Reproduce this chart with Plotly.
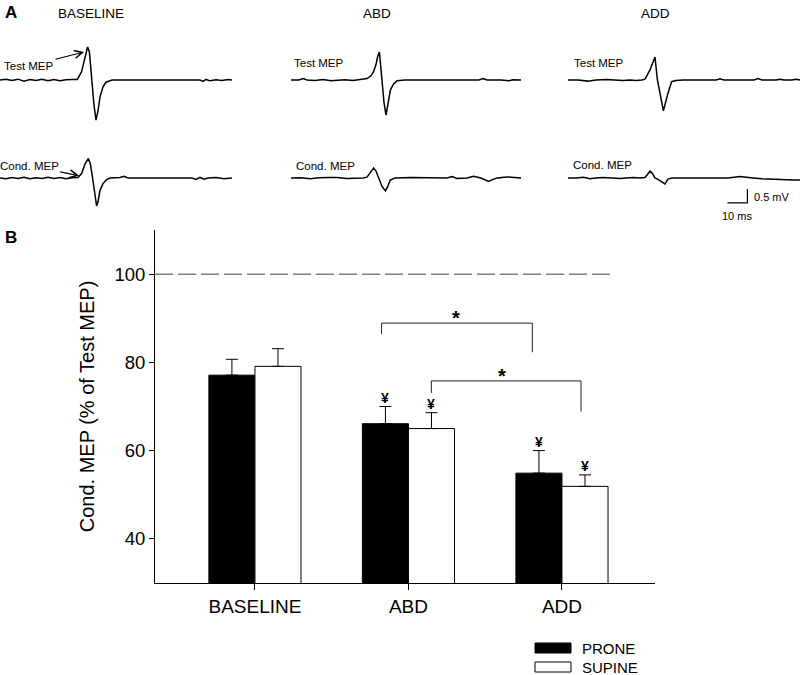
import plotly.graph_objects as go

# ---------------- DATA ----------------
CATEGORIES = ["BASELINE", "ABD", "ADD"]
PRONE = [77.1, 66.1, 54.9]
PRONE_SEM = [3.6, 3.9, 5.1]
SUPINE = [79.1, 65.0, 51.9]
SUPINE_SEM = [4.0, 3.6, 2.6]
YEN_PRONE = [False, True, True]
YEN_SUPINE = [False, True, True]
REFERENCE_LEVEL = 100
Y_TICKS = [40, 60, 80, 100]

# significance brackets: x_left, x_right, y_left_end, y_top, y_right_end, star_x, star_y
BRACKET_1 = [0.825, 1.807, 86.4, 88.9, 82.3, 1.31, 88.9]
BRACKET_2 = [1.149, 2.124, 73.1, 75.8, 68.9, 1.61, 75.8]

# MEP traces (time in ms, amplitude in mV)
BL_TEST_T = [0, 3, 6, 9, 12, 15, 18, 21, 24, 27, 30, 33, 36, 38.7, 40.8, 42.5, 43.8, 44.7, 45.8, 47, 48, 49, 50, 51.5, 53, 56, 70, 90, 100, 101.5, 103, 105, 108, 111, 114, 116]
BL_TEST_V = [0, 0.03, -0.02, 0.03, -0.04, 0.02, -0.02, 0.03, -0.03, 0.02, -0.03, 0.01, 0.02, 0.02, 0.3, 0.79, 1.18, 1.0, 0.0, -0.9, -1.43, -1.1, -0.6, -0.24, -0.08, 0.0, 0.0, 0.0, 0.0, -0.05, 0.02, -0.03, 0.01, -0.02, 0.02, 0.0]

BL_COND_T = [0, 3, 6, 9, 12, 15, 18, 21, 24, 27, 30, 33, 36, 39, 40.8, 42.5, 44.2, 45.2, 46.3, 47.3, 48.3, 49, 50, 51.5, 53.3, 55, 60, 62, 64, 80, 96, 98, 100, 102, 104, 108, 112, 116]
BL_COND_V = [0, -0.03, 0.02, -0.02, 0.03, -0.03, 0.01, -0.02, 0.03, -0.02, 0.02, -0.03, 0.01, 0.02, 0.16, 0.5, 0.70, 0.5, 0.0, -0.6, -1.0, -0.85, -0.44, -0.2, -0.06, 0.0, 0.02, 0.06, 0.0, 0.0, 0.0, -0.05, 0.02, -0.04, 0.0, 0.02, -0.03, 0.0]

ABD_TEST_T = [0, 4, 6, 8, 12, 16, 20, 23, 27, 31, 35, 38, 40, 41.3, 42.5, 43.3, 44.2, 45.4, 46.5, 47.5, 49.7, 51.2, 53, 57, 75, 94, 96, 98, 105, 109, 111, 115]
ABD_TEST_V = [0, 0.0, 0.05, 0.0, -0.02, 0.02, -0.03, -0.02, 0.01, -0.02, 0.02, 0.05, 0.15, 0.3, 0.55, 0.83, 1.0, 0.0, -0.8, -1.25, -0.36, -0.15, -0.03, 0.0, 0.0, 0.0, 0.05, 0.0, 0.0, -0.03, 0.01, 0.0]

ABD_COND_T = [0, 5, 9.7, 14, 19, 23, 28, 33, 36, 38, 39.7, 41.3, 42.5, 43.8, 45.5, 47.2, 48.4, 49.6, 52, 60, 70, 78, 80.5, 83, 88, 91.3, 95, 98.8, 101, 103, 108, 113, 115]
ABD_COND_V = [0, 0.01, -0.03, 0.01, 0.02, 0.02, -0.02, -0.02, 0.0, 0.03, 0.2, 0.36, 0.25, 0.0, -0.3, -0.46, -0.3, -0.07, 0.0, 0.02, 0.0, 0.0, 0.05, -0.02, 0.0, 0.06, 0.0, -0.12, -0.05, 0.0, 0.04, 0.0, 0.0]

ADD_TEST_T = [0, 5, 10, 14, 19, 23, 27.5, 31, 34, 37, 38.5, 41, 42.7, 43.5, 44.7, 46.2, 47.7, 50, 51.8, 54, 57.5, 65, 74, 76, 78, 93, 95, 97, 104, 106, 108, 112, 114, 116]
ADD_TEST_V = [0, 0.0, -0.04, 0.0, 0.02, 0.0, -0.02, 0.0, -0.02, 0.0, 0.03, 0.36, 0.65, 0.82, 0.0, -0.55, -1.1, -0.47, -0.06, -0.02, 0.0, 0.0, 0.0, 0.04, 0.0, 0.0, 0.05, 0.0, 0.0, 0.03, 0.0, 0.0, 0.03, 0.0]

ADD_COND_T = [0, 4, 7.7, 11, 14, 17.5, 22, 26, 29, 32.5, 36, 38.5, 40, 41, 42.3, 43.5, 45, 46.5, 48.5, 50, 52, 60, 70, 80, 86, 89, 92.5, 97, 102.5, 107, 112.5, 116]
ADD_COND_V = [0, 0.0, 0.03, -0.03, 0.0, 0.02, 0.0, -0.02, 0.0, 0.02, 0.0, 0.02, 0.15, 0.25, 0.15, 0.0, -0.05, -0.12, -0.21, -0.04, 0.0, 0.0, 0.0, 0.0, 0.05, 0.02, 0.0, -0.03, -0.05, -0.04, -0.07, -0.07]

COLUMN_TITLES = ["BASELINE", "ABD", "ADD"]
SCALE_MS = 10
SCALE_MV = 0.5

# ---------------- LAYOUT HELPERS ----------------
W, H = 800, 675
FONT = "Arial, Liberation Sans, Helvetica, sans-serif"


def px(x):
    return x / W


def py(y):
    return 1 - y / H


def paper_text(x, y, text, size, xanchor="center", yanchor="middle"):
    fig.add_annotation(x=px(x), y=py(y), xref="paper", yref="paper", text=text,
                       showarrow=False, xanchor=xanchor, yanchor=yanchor,
                       font=dict(family=FONT, size=size, color="black"))


fig = go.Figure()

# ---------------- PANEL B: bar chart ----------------
xs = list(range(len(CATEGORIES)))
fig.add_trace(go.Bar(
    x=xs, y=PRONE, name="PRONE",
    marker=dict(color="black", line=dict(color="black", width=1)),
    error_y=dict(type="data", array=PRONE_SEM, arrayminus=[0] * 3, symmetric=False,
                 color="black", thickness=1, width=6),
    showlegend=False,
))
fig.add_trace(go.Bar(
    x=xs, y=SUPINE, name="SUPINE",
    marker=dict(color="white", line=dict(color="black", width=1)),
    error_y=dict(type="data", array=SUPINE_SEM, arrayminus=[0] * 3, symmetric=False,
                 color="black", thickness=1, width=6),
    showlegend=False,
))

# brackets
for b in (BRACKET_1, BRACKET_2):
    xl, xr, yl, yt, yr, sx, sy = b
    fig.add_trace(go.Scatter(
        x=[xl, xl, xr, xr], y=[yl, yt, yt, yr], mode="lines",
        line=dict(color="#222", width=1), showlegend=False, hoverinfo="skip",
    ))
    fig.add_annotation(x=sx, y=sy, xref="x", yref="y", text="<b>*</b>", showarrow=False,
                       xanchor="center", font=dict(family=FONT, size=20, color="black"),
                       yanchor="bottom", yshift=-8)

# yen symbols
BAR_OFFSET = 0.15
for i in xs:
    if YEN_PRONE[i]:
        fig.add_annotation(x=i - BAR_OFFSET, y=PRONE[i] + PRONE_SEM[i], text="<b>¥</b>", showarrow=False,
                           xanchor="center", font=dict(family=FONT, size=14, color="black"),
                           yanchor="bottom", yshift=-1)
    if YEN_SUPINE[i]:
        fig.add_annotation(x=i + BAR_OFFSET, y=SUPINE[i] + SUPINE_SEM[i], text="<b>¥</b>", showarrow=False,
                           xanchor="center", font=dict(family=FONT, size=14, color="black"),
                           yanchor="bottom", yshift=-1)

# reference dashed line at 100 %
fig.add_shape(type="line", xref="x", yref="y", x0=-0.651, x1=2.33,
              y0=REFERENCE_LEVEL, y1=REFERENCE_LEVEL,
              line=dict(color="#808080", width=1.5, dash="18px,5px"))

fig.update_layout(
    barmode="group", bargap=0.4, bargroupgap=0,
    xaxis=dict(domain=[px(155), px(655)], range=[-0.651, 2.606],
               tickvals=xs, ticktext=CATEGORIES, ticks="outside", ticklen=6,
               tickcolor="black", showline=True, linecolor="black", linewidth=1,
               showgrid=False, zeroline=False,
               tickfont=dict(family=FONT, size=19, color="black"), anchor="y"),
    yaxis=dict(domain=[py(583), py(230)], range=[30, 110],
               tickvals=Y_TICKS, ticks="outside", ticklen=5, tickcolor="black",
               showline=True, linecolor="black", linewidth=1,
               showgrid=False, zeroline=False,
               tickfont=dict(family=FONT, size=18.5, color="black"),
               title=dict(text="Cond. MEP (% of Test MEP)", standoff=14,
                          font=dict(family=FONT, size=20, color="black")),
               anchor="x"),
)

# custom legend
for label, fill, ytop in (("PRONE", "black", 643), ("SUPINE", "white", 662)):
    fig.add_shape(type="rect", xref="paper", yref="paper",
                  x0=px(535), x1=px(571), y0=py(ytop + 10), y1=py(ytop),
                  fillcolor=fill, line=dict(color="black", width=1))
    paper_text(580, ytop + 5, label, 15, xanchor="left")

# ---------------- PANEL A: MEP traces ----------------
col_left_px = [0, 291, 568]
TRACE_LEN_MS = 116
PX_PER_MS = 2
test_dom = [py(136), py(38)]
cond_dom = [py(220), py(136)]
traces = [
    (BL_TEST_T, BL_TEST_V, BL_COND_T, BL_COND_V),
    (ABD_TEST_T, ABD_TEST_V, ABD_COND_T, ABD_COND_V),
    (ADD_TEST_T, ADD_TEST_V, ADD_COND_T, ADD_COND_V),
]
axis_n = 2
axis_ids = []
for c, (tt, tv, ct, cv) in enumerate(traces):
    x0 = col_left_px[c]
    xdom = [px(x0), min(1.0, px(x0 + TRACE_LEN_MS * PX_PER_MS))]
    pair = []
    for (t, v, dom, yr) in ((tt, tv, test_dom, [-2, 1.5]), (ct, cv, cond_dom, [-1.5, 1.5])):
        xa, ya = f"xaxis{axis_n}", f"yaxis{axis_n}"
        fig.update_layout(**{
            xa: dict(domain=xdom, range=[0, TRACE_LEN_MS], visible=False, anchor=f"y{axis_n}"),
            ya: dict(domain=dom, range=yr, visible=False, anchor=f"x{axis_n}"),
        })
        fig.add_trace(go.Scatter(x=t, y=v, mode="lines", xaxis=f"x{axis_n}", yaxis=f"y{axis_n}",
                                 line=dict(color="black", width=1.5), showlegend=False,
                                 hoverinfo="skip"))
        pair.append(axis_n)
        axis_n += 1
    axis_ids.append(pair)

# column titles
for c, title in enumerate(COLUMN_TITLES):
    paper_text([91, 377, 655][c], 13, title, 13.5)

lab_font = dict(family=FONT, size=11.5, color="black")
# BASELINE column labels with arrows
a_t, a_c = axis_ids[0]
fig.add_annotation(x=42, y=1.0, xref=f"x{a_t}", yref=f"y{a_t}", text="Test MEP",
                   showarrow=True, arrowhead=5, arrowsize=1.3, arrowwidth=1.2, arrowcolor="black",
                   ax=-55, ay=14, font=lab_font, xanchor="center", yanchor="middle")
fig.add_annotation(x=39.6, y=0.08, xref=f"x{a_c}", yref=f"y{a_c}", text="Cond. MEP",
                   showarrow=True, arrowhead=5, arrowsize=1.3, arrowwidth=1.2, arrowcolor="black",
                   ax=-50, ay=-10, font=lab_font, xanchor="center", yanchor="middle")
# other columns
for (lx, ly, txt) in ((292, 63, "Test MEP"), (294, 166, "Cond. MEP"),
                      (572, 63, "Test MEP"), (571, 165, "Cond. MEP")):
    paper_text(lx, ly, txt, 11.5, xanchor="left")

# scale bar in ADD conditioned axes
s_ax = axis_ids[2][1]
corner_t, corner_v = 89.7, -0.89
fig.add_trace(go.Scatter(
    x=[corner_t - SCALE_MS, corner_t, corner_t],
    y=[corner_v, corner_v, corner_v + SCALE_MV],
    mode="lines", line=dict(color="black", width=1.2), xaxis=f"x{s_ax}", yaxis=f"y{s_ax}",
    showlegend=False, hoverinfo="skip"))
fig.add_annotation(x=corner_t + 2.5, y=corner_v + 0.2, xref=f"x{s_ax}", yref=f"y{s_ax}",
                   text=f"{SCALE_MV} mV", showarrow=False, xanchor="left", yanchor="middle",
                   font=dict(family=FONT, size=11, color="black"))
fig.add_annotation(x=corner_t - SCALE_MS / 2, y=corner_v - 0.47, xref=f"x{s_ax}", yref=f"y{s_ax}",
                   text=f"{SCALE_MS} ms", showarrow=False, xanchor="center", yanchor="middle",
                   font=dict(family=FONT, size=11, color="black"))

# panel letters
paper_text(3, 12, "<b>A</b>", 17, xanchor="left")
paper_text(3, 238, "<b>B</b>", 17, xanchor="left")

fig.update_layout(
    width=W, height=H, margin=dict(l=0, r=0, t=0, b=0),
    plot_bgcolor="white", paper_bgcolor="white", showlegend=False,
    font=dict(family=FONT, color="black"),
)

fig.write_html("out.html", config={"displayModeBar": False},
               post_script="document.body.style.margin='0px';")
